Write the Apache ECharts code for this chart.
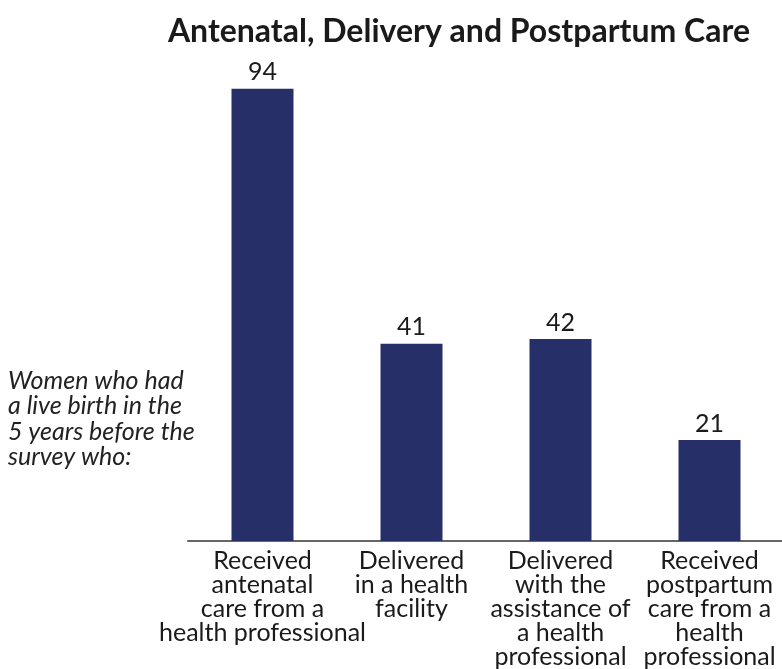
<!DOCTYPE html>
<html>
<head>
<meta charset="utf-8">
<script src="https://cdn.jsdelivr.net/npm/echarts@6/dist/echarts.min.js"></script>
<style>
  html, body { margin: 0; padding: 0; background: #fff; }
  #chart { width: 782px; height: 669px; }
</style>
</head>
<body>
<div id="chart"></div>
<script>
// categories and values
const categories = [
  'Received\nantenatal\ncare from a\nhealth professional',
  'Delivered\nin a health\nfacility',
  'Delivered\nwith the\nassistance of\na health\nprofessional',
  'Received\npostpartum\ncare from a\nhealth\nprofessional'
]
const values = [94, 41, 42, 21]

const chart = echarts.init(document.getElementById('chart'))

chart.setOption({
  animation: false,
  title: {
    text: 'Antenatal, Delivery and Postpartum Care',
    left: 454,
    textAlign: 'center',
    top: 11,
    textStyle: {
      fontFamily: 'Lato',
      fontWeight: 'bold',
      fontSize: 32,
      color: '#1a1a1a'
    }
  },
  graphic: [
    {
      type: 'text',
      left: 8,
      top: 368,
      style: {
        text: 'Women who had\na live birth in the\n5 years before the\nsurvey who:',
        font: 'italic 25px Lato',
        lineHeight: 25.5,
        fill: '#222'
      }
    }
  ],
  grid: {
    left: 188,
    right: -2,
    top: 60,
    bottom: 128,
    containLabel: false,
    outerBoundsMode: 'none'
  },
  xAxis: {
    type: 'category',
    data: categories,
    axisLine: { lineStyle: { color: '#666', width: 2 } },
    axisTick: { show: false },
    axisLabel: {
      interval: 0,
      margin: 8,
      fontFamily: 'Lato',
      fontSize: 25,
      lineHeight: 24,
      color: '#1a1a1a'
    }
  },
  yAxis: {
    type: 'value',
    min: 0,
    max: 100,
    show: false,
    splitLine: { show: false }
  },
  series: [
    {
      type: 'bar',
      data: values,
      barWidth: 62,
      itemStyle: { color: '#262f68' },
      label: {
        show: true,
        position: 'top',
        distance: 4,
        fontFamily: 'Lato',
        fontSize: 25,
        color: '#1a1a1a'
      }
    }
  ]
})
</script>
</body>
</html>
